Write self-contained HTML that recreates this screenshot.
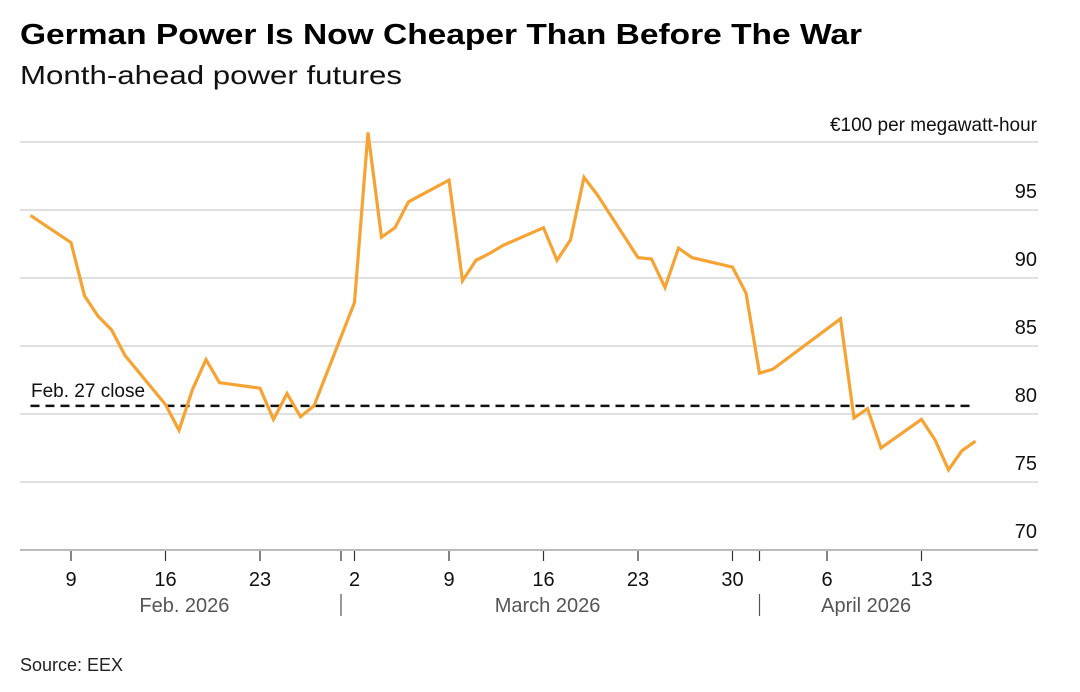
<!DOCTYPE html>
<html><head><meta charset="utf-8"><style>
html,body{margin:0;padding:0;background:#fff}
svg{display:block;font-family:"Liberation Sans",Arial,sans-serif}
</style></head><body>
<svg id="chart" width="1080" height="692" viewBox="0 0 1080 692" xmlns="http://www.w3.org/2000/svg">
<text x="20" y="44" font-size="29" font-weight="bold" fill="#000" textLength="842" lengthAdjust="spacingAndGlyphs">German Power Is Now Cheaper Than Before The War</text>
<text x="20" y="84" font-size="26" fill="#111" textLength="382" lengthAdjust="spacingAndGlyphs">Month-ahead power futures</text>
<text x="1037" y="131" font-size="19" fill="#111" text-anchor="end">€100 per megawatt-hour</text>
<g id="grid"></g>
<g id="xaxis"></g>
<g id="series"></g>
<text x="20" y="671" font-size="18" fill="#222">Source: EEX</text>
</svg>
<script>
// Day offsets relative to Feb 9, 2026
const dates = [-3,0,1,2,3,4,7,8,9,10,11,14,15,16,17,18,21,22,23,24,25,28,29,30,31,32,35,36,37,38,39,42,43,44,45,46,49,50,51,52,57,58,59,60,63,64,65,66,67];
const values = [94.6,92.6,88.7,87.2,86.2,84.3,80.7,78.8,81.8,84.0,82.3,81.9,79.6,81.5,79.8,80.6,88.2,100.7,93.0,93.7,95.6,97.2,89.8,91.3,91.8,92.4,93.7,91.3,92.8,97.4,96.1,91.5,91.4,89.3,92.2,91.5,90.8,88.9,83.0,83.3,87.0,79.7,80.4,77.5,79.6,78.1,75.9,77.3,78.0];
const yTicks = [70,75,80,85,90,95,100];
const dayTickOffsets = [0,7,14,21,28,35,42,49,56,63];
const dayTickLabels = ["9","16","23","2","9","16","23","30","6","13"];
const monthBoundaries = [20,51];
const monthLabels = ["Feb. 2026","March 2026","April 2026"];
const monthLabelOffsets = [8.4,35.3,58.9];
const refValue = 80.6;
const refStart = -3, refEnd = 67;

const NS="http://www.w3.org/2000/svg";
const xS = d => 71 + d*13.5;
const yS = v => 550 - (v-70)*13.6;
function mk(tag, attrs, parent, text){const e=document.createElementNS(NS,tag);for(const k in attrs)e.setAttribute(k,attrs[k]);if(text!==undefined)e.textContent=text;parent.appendChild(e);return e;}
const grid=document.getElementById('grid'), xa=document.getElementById('xaxis'), sr=document.getElementById('series');

yTicks.forEach(v=>{
  const l=mk('line',{x1:20,x2:1038,y1:yS(v),y2:yS(v),stroke:v===70?'#bbb':'#d6d6d6','stroke-width':v===70?2:1.5},grid);
  
  
  if(v<100){
    const t=mk('text',{x:1037,y:yS(v)-12,'font-size':20,fill:'#111','text-anchor':'end'},grid,String(v));
    
    
  }
});
dayTickOffsets.forEach((d,i)=>{
  const x=xS(d);
  const tk=mk('line',{x1:x,x2:x,y1:551,y2:561,stroke:'#333','stroke-width':1.2},xa);
  
  
  const t=mk('text',{x:x,y:586,'font-size':20,fill:'#111','text-anchor':'middle'},xa,dayTickLabels[i]);
  
  
});
monthBoundaries.forEach(d=>{
  const x=xS(d);
  const a=mk('line',{x1:x,x2:x,y1:551,y2:561,stroke:'#333','stroke-width':1.2},xa);
  
  
  const b=mk('line',{x1:x,x2:x,y1:594,y2:616,stroke:'#555','stroke-width':1.2},xa);
  
  
});
monthLabels.forEach((m,i)=>{
  const t=mk('text',{x:xS(monthLabelOffsets[i]),y:612,'font-size':20,fill:'#555','text-anchor':'middle'},xa,m);
  
  
});
const ref=mk('line',{x1:xS(refStart),x2:xS(refEnd),y1:yS(refValue),y2:yS(refValue),stroke:'#111','stroke-width':2.5,'stroke-dasharray':'9,6'},sr);


const rl=mk('text',{x:31,y:yS(refValue)-9,'font-size':19,fill:'#111'},sr,'Feb. 27 close');


const pts=dates.map((d,i)=>xS(d).toFixed(1)+','+yS(values[i]).toFixed(1)).join(' ');
const pl=mk('polyline',{points:pts,fill:'none',stroke:'#f7a333','stroke-width':3.2,'stroke-linejoin':'miter'},sr);


</script>
</body></html>
